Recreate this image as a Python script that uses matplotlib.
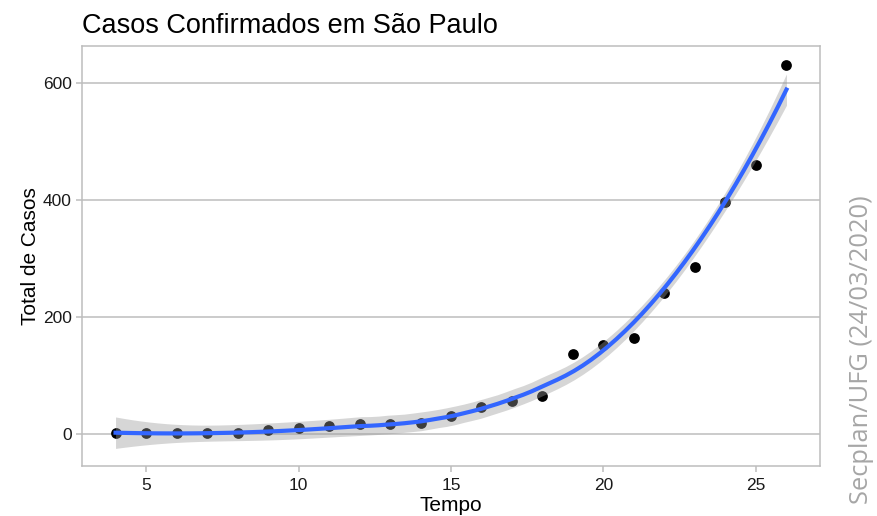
import numpy as np
import matplotlib
matplotlib.use("Agg")
import matplotlib.pyplot as plt

# daily confirmed totals
tempo = [4, 5, 6, 7, 8, 9, 10, 11, 12, 13, 14, 15, 16, 17, 18, 19, 20, 21, 22, 23, 24, 25, 26]
casos = [1, 1, 1, 1, 2, 6, 10, 13, 16, 16, 19, 30, 46, 56, 65, 136, 152, 164, 240, 286, 396, 459, 631]
x_ticks = [5, 10, 15, 20, 25]
y_ticks = [0, 200, 400, 600]


def loess_matrix(x, x0, span=0.75):
    # rows: local quadratic weights for each evaluation point
    n = len(x)
    q = int(np.floor(span * n))
    rows = []
    for v in x0:
        d = np.abs(x - v)
        h = np.sort(d)[q - 1]
        w = np.clip(1 - (d / h) ** 3, 0, None) ** 3
        X = np.column_stack([np.ones(n), x - v, (x - v) ** 2])
        W = np.diag(w)
        A = np.linalg.solve(X.T @ W @ X, X.T @ W)
        rows.append(A[0])
    return np.array(rows)


x = np.array(tempo, dtype=float)
y = np.array(casos, dtype=float)

L = loess_matrix(x, x)
R = np.eye(len(x)) - L
M = R.T @ R
delta1 = np.trace(M)
delta2 = np.trace(M @ M)
sigma = np.sqrt(np.sum((R @ y) ** 2) / delta1)
df = delta1 ** 2 / delta2
z = 1.959964
tq = z + (z ** 3 + z) / (4 * df) + (5 * z ** 5 + 16 * z ** 3 + 3 * z) / (96 * df ** 2)

xs = np.linspace(x.min(), x.max(), 80)
Ls = loess_matrix(x, xs)
fit = Ls @ y
se = sigma * np.sqrt(np.sum(Ls ** 2, axis=1))

plt.rcParams["font.family"] = ["Liberation Sans", "DejaVu Sans"]

fig = plt.figure(figsize=(8.77, 5.16), dpi=100)
ax = fig.add_axes([82 / 877, 50 / 516, 738 / 877, 420 / 516])

grid_col = "#bdbdbd"
for v in y_ticks:
    ax.axhline(v, color=grid_col, lw=1.1, zorder=0)

ax.scatter(tempo, casos, s=60, color="black", zorder=2, linewidths=0)
ax.fill_between(xs, fit - tq * se, fit + tq * se, color="#999999", alpha=0.4, lw=0, zorder=3)
ax.plot(xs, fit, color="#3366FF", lw=3, zorder=4)

ax.set_xlim(2.9, 27.1)
ax.set_ylim(-55, 663)
ax.set_xticks(x_ticks)
ax.set_yticks(y_ticks)
ax.tick_params(colors=grid_col, labelcolor="#1a1a1a", labelsize=12.5, length=4, width=1.1)
ax.tick_params(axis="x", pad=5)

for s in ax.spines.values():
    s.set_color(grid_col)
    s.set_linewidth(1.1)

ax.set_xlabel("Tempo", fontsize=15, labelpad=2)
ax.set_ylabel("Total de Casos", fontsize=15, labelpad=2)

fig.text(82 / 877, 1 - 33 / 516, "Casos Confirmados em São Paulo", fontsize=19.5,
         ha="left", va="baseline")
fig.text(862 / 877, 1 - 350 / 516, "Secplan/UFG (24/03/2020)", rotation=90,
         fontsize=18.4, color="#a6a6a6", family=["Open Sans", "DejaVu Sans"],
         ha="center", va="center")

fig.savefig("out.png", dpi=100)
